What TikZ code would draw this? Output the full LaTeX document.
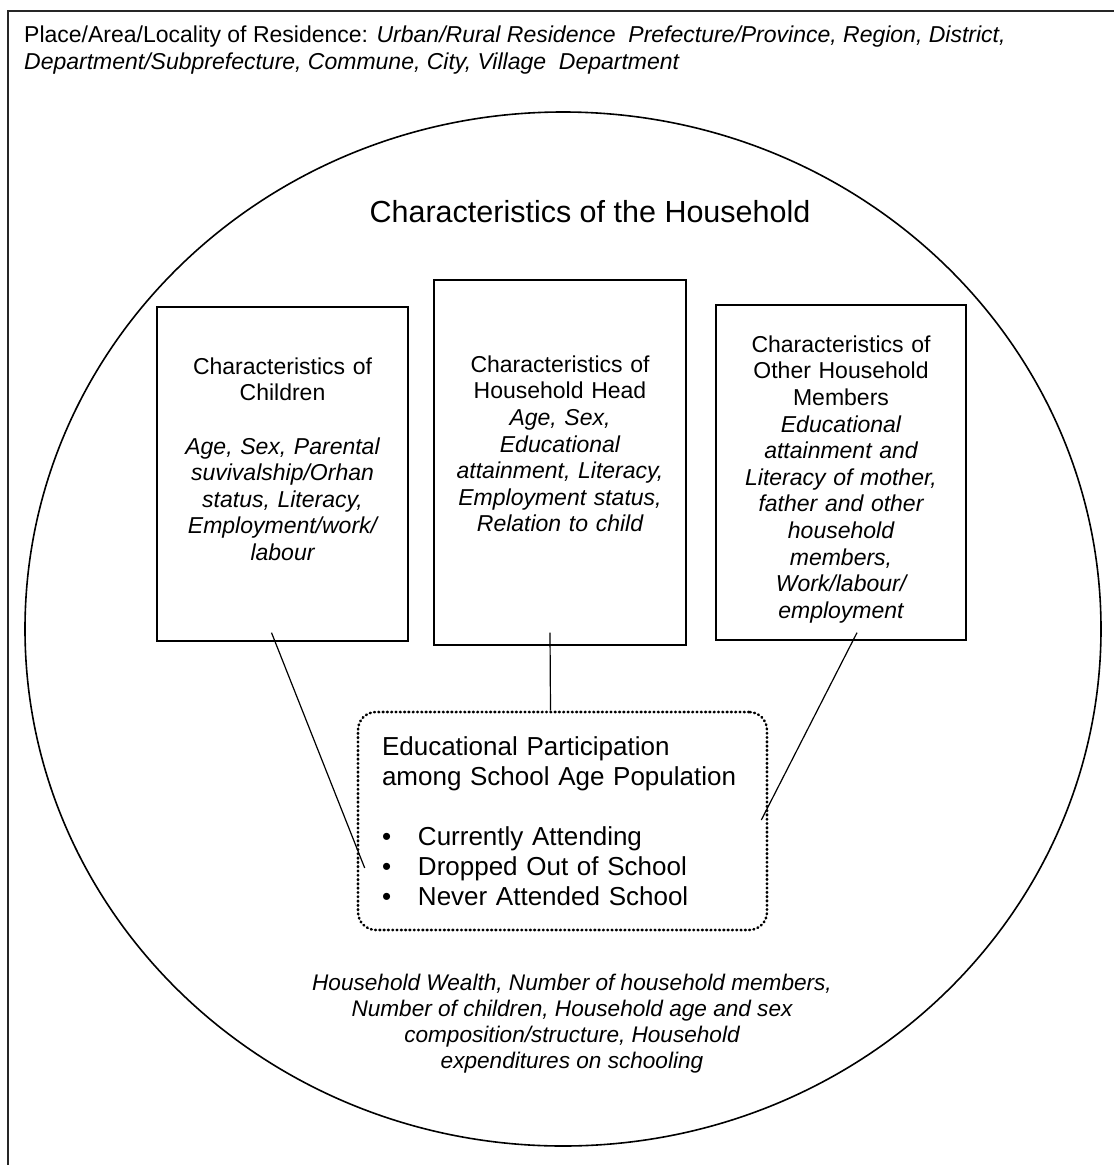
\documentclass[tikz,border=0pt]{standalone}
\usepackage{fontspec}
\setmainfont{Liberation Sans}
\usetikzlibrary{positioning}

\begin{document}
\begin{tikzpicture}[x=1pt, y=-1pt,
        frame/.style={line width=1.5pt, black!85},
        hhbox/.style={draw, line width=1.3pt, inner sep=0pt},
        boxtext/.style={inner sep=0pt, text width=244pt, align=center,
                        font=\fontsize{23}{26.6}\selectfont},
        partbox/.style={draw, line width=2.6pt, rounded corners=18pt, line cap=round,
                        dash pattern=on 0.8pt off 3.5pt, align=left, text width=361pt,
                        inner xsep=24pt, inner ysep=0pt,
                        font=\fontsize{26}{30}\selectfont},
        link/.style={line width=1.2pt}]
    \useasboundingbox (0,0) rectangle (1114,1165);
    % Frame, open at right and bottom
    \draw[frame] (8,1165) -- (8,11) -- (1114,11);
    \node[anchor=north west, inner sep=0pt, align=left,
          font=\fontsize{23}{27}\selectfont] (residence) at (24,26)
        {Place/Area/Locality of Residence: \textit{Urban/Rural Residence\ \ Prefecture/Province, Region, District,}\\
         \textit{Department/Subprefecture, Commune, City, Village\ \ Department}};
    % Household circle
    \draw[line width=1.6pt] (563,629) ellipse [x radius=538pt, y radius=517pt];
    \node[font=\fontsize{30.5}{36}\selectfont] (household) at (590,212) {Characteristics of the Household};
    % Boxes
    \node[hhbox, minimum width=251pt, minimum height=334pt] (children) at (282.5,474) {};
    \node[hhbox, minimum width=252pt, minimum height=365pt] (head)     at (560,462.5) {};
    \node[hhbox, minimum width=250pt, minimum height=335pt] (others)   at (841,472.5) {};
    \node[boxtext, below=51pt of children.north] (childrentext)
        {Characteristics of\\ Children\\[26.6pt]
         \itshape Age, Sex, Parental\\ suvivalship/Orhan\\ status, Literacy,\\ Employment/work/\\ labour};
    \node[boxtext, below=76pt of head.north] (headtext)
        {Characteristics of\\ Household Head\\
         \itshape Age, Sex,\\ Educational\\ attainment, Literacy,\\ Employment status,\\ Relation to child};
    \node[boxtext, below=31pt of others.north] (otherstext)
        {Characteristics of\\ Other Household\\ Members\\
         \itshape Educational\\ attainment and\\ Literacy of mother,\\ father and other\\ household\\ members,\\ Work/labour/\\ employment};
    % Participation
    \node[partbox, minimum height=218pt] (partic) at (562.5,821)
        {Educational Participation\\ among School Age Population\\[30pt]
         \makebox[36pt][l]{\textbullet}Currently Attending\\
         \makebox[36pt][l]{\textbullet}Dropped Out of School\\
         \makebox[36pt][l]{\textbullet}Never Attended School};
    \draw[link] ([xshift=-11pt,yshift=9pt]children.south) -- ([xshift=8pt,yshift=-47pt]partic.west);
    \draw[link] ([xshift=-10pt,yshift=13pt]head.south) -- ([xshift=-12pt]partic.north);
    \draw[link] ([xshift=16pt,yshift=8pt]others.south) -- ([xshift=-7pt,yshift=1pt]partic.east);
    \node[align=center, font=\itshape\fontsize{22.6}{26}\selectfont] (wealth) at (572,1024)
        {Household Wealth, Number of household members,\\
         Number of children, Household age and sex\\
         composition/structure, Household\\
         expenditures on schooling};
\end{tikzpicture}
\end{document}
